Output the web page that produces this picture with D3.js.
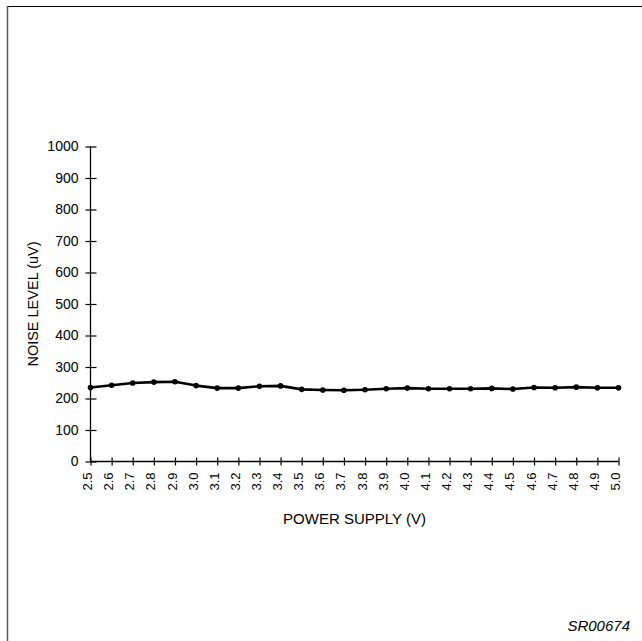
<!DOCTYPE html>
<html>
<head>
<meta charset="utf-8">
<script src="https://cdn.jsdelivr.net/npm/d3@7"></script>
<style>
  html, body { margin: 0; padding: 0; background: #fff; }
  svg { display: block; }
  text { font-family: "Liberation Sans", Arial, Helvetica, sans-serif; fill: #000; }
</style>
</head>
<body>
<svg id="chart" width="642" height="641"></svg>
<script>
const voltages = [2.5, 2.6, 2.7, 2.8, 2.9, 3.0, 3.1, 3.2, 3.3, 3.4, 3.5, 3.6, 3.7, 3.8, 3.9, 4.0, 4.1, 4.2, 4.3, 4.4, 4.5, 4.6, 4.7, 4.8, 4.9, 5.0];
const noise = [235, 242, 249, 252, 253, 241, 233, 233, 239, 240, 229, 227, 226, 228, 231, 233, 231, 231, 231, 232, 230, 235, 234, 236, 234, 234];
const yTicks = [0, 100, 200, 300, 400, 500, 600, 700, 800, 900, 1000];
const xTickLabels = voltages.map(v => v.toFixed(1));
const xTitle = "POWER SUPPLY (V)";
const yTitle = "NOISE LEVEL (uV)";
const figId = "SR00674";

const svg = d3.select("#chart");

// frame (top and left border)
svg.append("line").attr("x1", 7).attr("y1", 6.5).attr("x2", 642).attr("y2", 6.5)
  .attr("stroke", "#000").attr("stroke-width", 1.2);
svg.append("line").attr("x1", 7.5).attr("y1", 6).attr("x2", 7.5).attr("y2", 641)
  .attr("stroke", "#555").attr("stroke-width", 1.5);

const x = d3.scaleLinear().domain([2.5, 5.0]).range([90.5, 618.5]);
const y = d3.scaleLinear().domain([0, 1000]).range([461.5, 146.5]);

// Y axis
const yAxis = svg.append("g").attr("transform", "translate(90.5,0)")
  .call(d3.axisLeft(y).tickValues(yTicks).tickSize(5).tickPadding(7).tickFormat(d3.format("d")));
yAxis.select(".domain").attr("d", `M0,${y(1000)}V${y(0)}`).attr("stroke", "#000").attr("stroke-width", 1.3);
yAxis.selectAll(".tick line").attr("x1", 6).attr("x2", -5).attr("stroke", "#000").attr("stroke-width", 1.2);
yAxis.selectAll(".tick text").attr("font-size", "14px").attr("font-family", "Liberation Sans, Arial, sans-serif");

// X axis
const xAxis = svg.append("g").attr("transform", `translate(0,${y(0)})`)
  .call(d3.axisBottom(x).tickValues(voltages).tickSize(4).tickFormat((d, i) => xTickLabels[i]));
xAxis.select(".domain").attr("d", `M${x(2.5)},0H${x(5.0)}`).attr("stroke", "#000").attr("stroke-width", 1.3);
xAxis.selectAll(".tick line").attr("y1", -4).attr("y2", 4).attr("stroke", "#000").attr("stroke-width", 1.2);
xAxis.selectAll(".tick text")
  .attr("font-size", "13px")
  .attr("font-family", "Liberation Sans, Arial, sans-serif")
  .attr("text-anchor", "end")
  .attr("transform", "rotate(-90)")
  .attr("x", -11)
  .attr("y", 0)
  .attr("dy", "0.08em");

// series
const line = d3.line().x((d, i) => x(voltages[i])).y(d => y(d));
svg.append("path").datum(noise)
  .attr("d", line)
  .attr("fill", "none")
  .attr("stroke", "#000")
  .attr("stroke-width", 2.6)
  .attr("stroke-linejoin", "round");
svg.selectAll("circle.pt").data(noise).enter().append("circle")
  .attr("class", "pt")
  .attr("cx", (d, i) => x(voltages[i]))
  .attr("cy", d => y(d))
  .attr("r", 2.8)
  .attr("fill", "#000");

// titles
svg.append("text")
  .attr("x", (x(2.5) + x(5.0)) / 2)
  .attr("y", 524)
  .attr("text-anchor", "middle")
  .attr("font-size", "15px")
  .text(xTitle);

svg.append("text")
  .attr("transform", `translate(38,${(y(700) + y(300)) / 2}) rotate(-90)`)
  .attr("text-anchor", "middle")
  .attr("font-size", "14.5px")
  .text(yTitle);

svg.append("text")
  .attr("x", 630)
  .attr("y", 631)
  .attr("text-anchor", "end")
  .attr("font-size", "15px")
  .attr("font-style", "italic")
  .text(figId);
</script>
</body>
</html>
